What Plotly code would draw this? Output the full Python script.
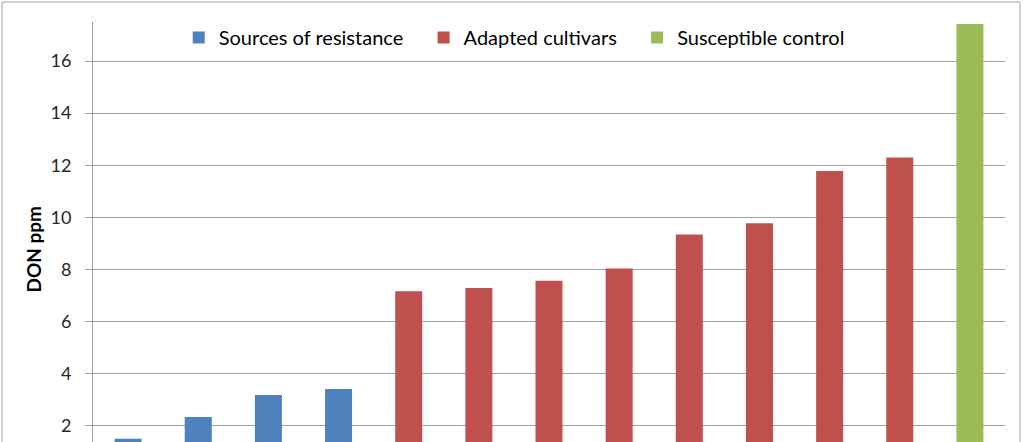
import plotly.graph_objects as go

# Data (DON ppm)
resistance_pos = [1, 2, 3, 4]
resistance_vals = [1.50, 2.33, 3.18, 3.41]
adapted_pos = [5, 6, 7, 8, 9, 10, 11, 12]
adapted_vals = [7.16, 7.29, 7.57, 8.04, 9.34, 9.77, 11.78, 12.30]
control_pos = [13]
control_vals = [17.42]
series_names = ["Sources of resistance", "Adapted cultivars", "Susceptible control"]
colors = ["#4F81BD", "#C0504D", "#9BBB59"]
y_ticks = [2, 4, 6, 8, 10, 12, 14, 16]

FONT = "Lato"
PAD = "\u00a0\u00a0\u00a0"
fig = go.Figure()
for name, xs, ys, c in zip(series_names,
                           [resistance_pos, adapted_pos, control_pos],
                           [resistance_vals, adapted_vals, control_vals],
                           colors):
    fig.add_trace(go.Bar(x=xs, y=ys, name=name + PAD,
                         marker=dict(color=c, line=dict(width=0)),
                         width=0.385))

fig.update_layout(
    width=1023, height=442,
    margin=dict(l=93, r=18, t=22, b=0),
    paper_bgcolor="white", plot_bgcolor="white",
    barmode="overlay",
    showlegend=True,
    legend=dict(orientation="h", x=0.094, xanchor="left", y=1.0095, yanchor="top",
                font=dict(family=FONT, size=20, color="#000000"),
                itemwidth=30, bgcolor="rgba(0,0,0,0)"),
    font=dict(family=FONT),
)
fig.update_xaxes(range=[0.5, 13.5], showticklabels=False, showgrid=False,
                 zeroline=False, showline=False, ticks="")
fig.update_yaxes(range=[1.374, 17.50], tickvals=y_ticks, showgrid=True,
                 gridcolor="#A0A0A0", gridwidth=1, zeroline=False,
                 showline=True, linecolor="#A0A0A0", linewidth=1,
                 ticks="outside", ticklen=7, tickcolor="#A0A0A0",
                 ticklabelstandoff=10,
                 tickfont=dict(family=FONT, size=18, color="#262626"))
fig.add_annotation(text="<b>DON ppm</b>", xref="paper", yref="paper",
                   x=-0.0663, y=0.4595, xanchor="center", yanchor="middle",
                   textangle=-90, showarrow=False,
                   font=dict(family=FONT, size=19, color="#000000"))
fig.add_shape(type="rect", xref="paper", yref="paper",
              x0=-0.0998, x1=1.0164, y0=-0.2, y1=1.0476,
              line=dict(color="#A0A0A0", width=1), fillcolor="rgba(0,0,0,0)",
              layer="below")
fig.write_html("out.html")
